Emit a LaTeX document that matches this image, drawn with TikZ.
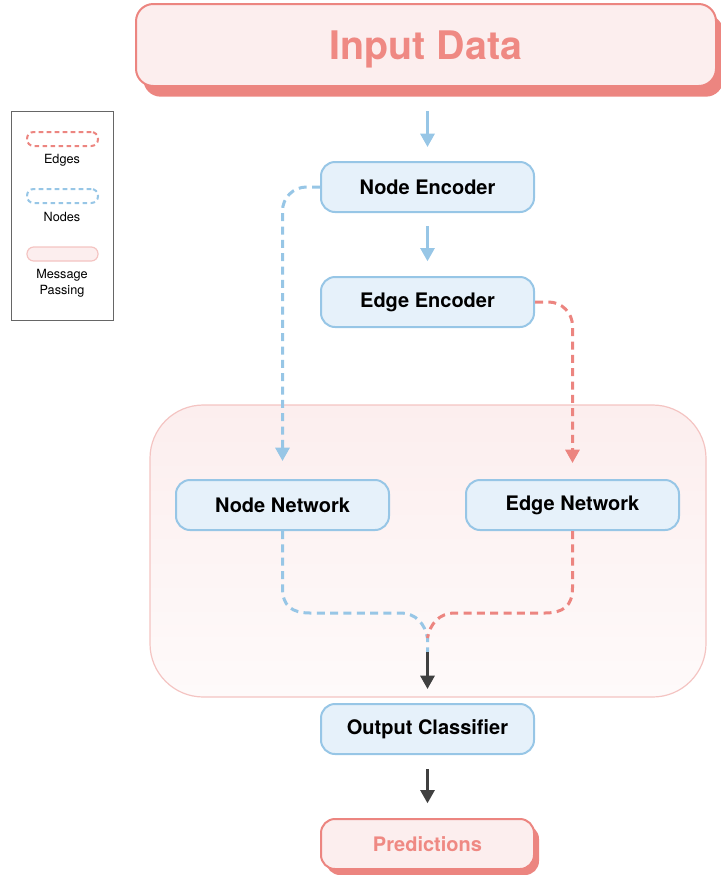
\documentclass[tikz,border=0pt]{standalone}
\usepackage{fontspec}
\setmainfont{TeX Gyre Heros}
\usetikzlibrary{arrows.meta,shadows}
\definecolor{lineblue}{HTML}{97C6E6}
\definecolor{fillblue}{HTML}{E6F1FA}
\definecolor{linered}{HTML}{EC8580}
\definecolor{fillred}{HTML}{FCEEEE}
\definecolor{textred}{HTML}{EF8983}
\definecolor{mpborder}{HTML}{F4C4C2}
\definecolor{mptop}{HTML}{FCEEEE}
\definecolor{mpbottom}{HTML}{FEFAFA}
\definecolor{darkline}{HTML}{404040}
\definecolor{legendgray}{HTML}{666666}
\begin{document}
\begin{tikzpicture}[x=0.75pt,y=-0.75pt,
  bluebox/.style={draw=lineblue, fill=fillblue, line width=1.5pt, rounded corners=10.5pt,
    minimum width=159.75pt, minimum height=37.5pt, inner sep=0pt,
    font=\fontsize{15}{18}\selectfont\bfseries},
  redbox/.style={draw=linered, fill=fillred, line width=1.5pt, rounded corners=10.5pt,
    inner sep=0pt, text=textred},
  bluearrow/.style={draw=lineblue, line width=2.25pt, -{Triangle[width=10.5pt,length=10pt]}},
  darkarrow/.style={draw=darkline, line width=2.25pt, -{Triangle[width=10.5pt,length=10pt]}},
  bluedash/.style={draw=lineblue, line width=2.25pt, dash pattern=on 6pt off 4pt},
  reddash/.style={draw=linered, line width=2.25pt, dash pattern=on 6pt off 4pt},
  legtext/.style={font=\fontsize{9.5}{12}\selectfont, align=center, inner sep=0pt},
]
\useasboundingbox (0,0) rectangle (721,875);

% message passing container
\node[draw=mpborder, line width=0.9pt, top color=mptop, bottom color=mpbottom,
  rounded corners=40pt, minimum width=417pt, minimum height=219pt, inner sep=0pt]
  (mp) at (428,551) {};

% legend
\node[draw=legendgray, line width=0.75pt, minimum width=76.5pt, minimum height=156.75pt, inner sep=0pt]
  (legend) at (62,215.5) {};
\node[draw=linered, line width=1.5pt, dash pattern=on 3.5pt off 2.5pt, rounded corners=5pt,
  minimum width=53.25pt, minimum height=10.5pt, inner sep=0pt] (legE) at (62.5,139) {};
\node[legtext] (legEt) at (62,160) {Edges};
\node[draw=lineblue, line width=1.5pt, dash pattern=on 3.5pt off 2.5pt, rounded corners=5pt,
  minimum width=53.25pt, minimum height=10.5pt, inner sep=0pt] (legN) at (62.5,196) {};
\node[legtext] (legNt) at (62,217) {Nodes};
\node[draw=mpborder, fill=fillred, line width=0.9pt, rounded corners=5pt,
  minimum width=53.25pt, minimum height=10.5pt, inner sep=0pt] (legM) at (62.5,254) {};
\node[legtext] (legMt) at (62,283) {Message\\Passing};

% main nodes
\node[redbox, minimum width=435pt, minimum height=61.5pt, rounded corners=13pt,
  drop shadow={shadow xshift=5.5pt, shadow yshift=-8pt, opacity=1, fill=linered},
  text depth=0pt, font=\fontsize{29.5}{34}\selectfont\bfseries] (input) at (426,45) {Input Data};
\node[bluebox] (nenc) at (427.5,187) {Node Encoder};
\node[bluebox] (eenc) at (427.5,302) {Edge Encoder};
\node[bluebox] (nnet) at (282.5,505) {Node Network};
\node[bluebox] (enet) at (572.5,505) {Edge Network};
\node[bluebox] (out) at (427.5,729) {Output Classifier};
\node[redbox, minimum width=159.75pt, minimum height=37.5pt,
  drop shadow={shadow xshift=3.75pt, shadow yshift=-4.5pt, opacity=1, fill=linered},
  font=\fontsize{15}{18}\selectfont\bfseries] (pred) at (427.5,844) {Predictions};

\coordinate (merge) at (427.5,638);
\coordinate (bturn) at (282.5,588);
\coordinate (rturn) at (572.5,588);

% connectors
\draw[bluearrow, shorten <=18pt, shorten >=10.5pt] (input.south -| nenc.north) -- (nenc.north);
\draw[bluearrow, shorten <=9.75pt, shorten >=11pt] (nenc.south) -- (eenc.north);
\draw[bluedash, rounded corners=18pt, -{Triangle[width=10.5pt,length=10pt]}, shorten >=13.5pt]
  (nenc.west) -| (nnet.north);
\draw[reddash, rounded corners=18pt, -{Triangle[width=10.5pt,length=10pt]}, shorten >=12pt]
  (eenc.east) -| (enet.north);
\draw[bluedash]
  (nnet.south) -- (bturn) .. controls (282.5,606) and (292,613) .. (310,613)
  -- (400,613) .. controls (416,613) and (425,624) .. (merge) -- ++(0,14);
\draw[reddash]
  (enet.south) -- (rturn) .. controls (572.5,606) and (563,613) .. (545,613)
  -- (455,613) .. controls (439,613) and (430,624) .. (merge);
\draw[darkarrow, shorten <=10.5pt, shorten >=10.5pt] (merge) -- (out.north);
\draw[darkarrow, shorten <=10.5pt, shorten >=11pt] (out.south) -- (pred.north);
\end{tikzpicture}
\end{document}
